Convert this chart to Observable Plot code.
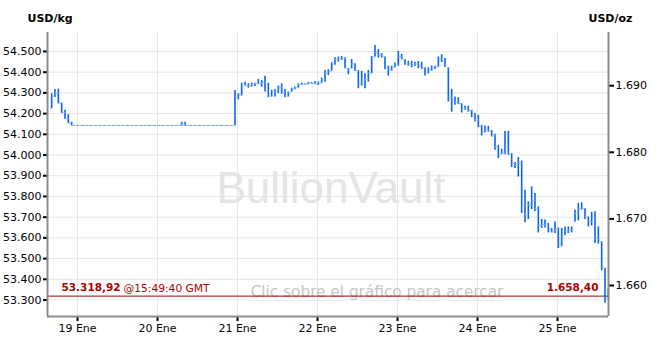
<!DOCTYPE html>
<html><head><meta charset="utf-8">
<script src="https://cdn.jsdelivr.net/npm/d3@7"></script>
<script src="https://cdn.jsdelivr.net/npm/@observablehq/plot@0.6"></script>
<style>
html,body{margin:0;padding:0;background:#fff;}
#chart{width:659px;height:344px;}
</style></head><body><div id="chart"></div>
<script>
// Hourly bars: hour offset from 19 Ene 2013 00:00 GMT
const hours = [-8,-7,-6,-5,-4,-3,-2, 31,32,
 47,48,49,50,51,52,53,54,55,56,57,58,59,60,61,62,63,64,65,66,67,68,69,70,71,72,73,74,75,76,77,78,79,80,
 81,82,83,84,85,86,87,88,89,90,91,92,93,94,95,96,97,98,99,100,101,102,103,104,105,106,107,108,109,110,
 111,112,113,114,115,116,117,118,119,120,121,122,123,124,125,126,127,128,129,130,131,132,133,134,135,136,
 137,138,139,140,141,142,143,144,145,146,147,148,149,150,151,152,153,154,155,156,157,158,159];
// USD/kg
const high = [54296,54317,54318,54251,54216,54195,54159, 54158,54158,
 54312,54296,54347,54351,54344,54347,54347,54365,54360,54380,
 54347,54312,54317,54333,54344,54317,54304,54323,54328,54344,
 54347,54344,54351,54351,54355,54352,54371,54408,54412,54446,
 54470,54473,54476,54470,54417,54461,54441,54408,54404,54393,
 54408,54476,54529,54510,54489,54473,54429,54429,54444,54500,
 54486,54461,54453,54453,54448,54452,54448,54421,54421,54429,
 54429,54473,54484,54466,54421,54317,54280,54277,54248,54235,
 54235,54216,54200,54192,54143,54140,54139,54119,54100,54047,
 54028,54114,54114,54007,53964,53988,53971,53830,53774,53846,
 53814,53750,53689,53686,53670,53646,53677,53648,53646,53653,
 53653,53653,53734,53766,53769,53742,53701,53723,53726,53653,
 53581,53453,53356];
const low = [54224,54278,54248,54200,54171,54152,54143, 54145,54143,
 54143,54267,54285,54333,54323,54328,54331,54340,54328,54304,
 54277,54280,54280,54296,54293,54277,54280,54304,54315,54323,
 54336,54340,54340,54344,54340,54336,54347,54352,54384,54405,
 54433,54448,54457,54417,54388,54417,54405,54320,54333,54320,
 54352,54393,54473,54468,54468,54412,54381,54405,54421,54429,
 54460,54433,54429,54421,54428,54417,54413,54381,54393,54405,
 54413,54424,54446,54423,54256,54207,54240,54243,54203,54216,
 54207,54180,54159,54132,54092,54108,54111,54087,54023,53983,
 54004,54002,53999,53940,53935,53894,53718,53673,53689,53737,
 53726,53624,53646,53648,53624,53624,53621,53549,53557,53613,
 53621,53624,53677,53682,53734,53689,53653,53658,53573,53570,
 53441,53284,53303];
const close = [54285,54300,54250,54205,54175,54155,54143, 54150,54143,
 54280,54290,54340,54335,54335,54340,54345,54345,54350,54310,
 54285,54305,54310,54325,54300,54285,54300,54320,54325,54340,
 54342,54342,54348,54345,54342,54345,54365,54395,54405,54440,
 54460,54465,54465,54420,54410,54440,54410,54345,54355,54365,
 54395,54470,54495,54480,54475,54420,54415,54425,54435,54475,
 54465,54440,54440,54435,54440,54430,54420,54395,54410,54420,
 54425,54460,54455,54430,54280,54265,54255,54250,54225,54225,
 54215,54190,54170,54140,54110,54125,54115,54095,54040,54000,
 54010,54040,54005,53960,53950,53960,53760,53710,53760,53780,
 53740,53660,53665,53660,53640,53630,53640,53570,53600,53630,
 53640,53640,53720,53740,53745,53700,53680,53700,53600,53590,
 53460,53340,53318.92];
const firstOpen = 54225;
// weekend (market closed) dashed line
const gapHours = [-2, 47];
const gapLevel = [54143, 54143];
const dayTicks = ["2013-01-19","2013-01-20","2013-01-21","2013-01-22","2013-01-23","2013-01-24","2013-01-25"];
const dayLabels = ["19 Ene","20 Ene","21 Ene","22 Ene","23 Ene","24 Ene","25 Ene"];
const yTicksKg = [53300,53400,53500,53600,53700,53800,53900,54000,54100,54200,54300,54400,54500];
const yTicksOz = [1660,1670,1680,1690];
const lastPrice = 53318.92;
const lastTime = "15:49:40 GMT";
const OZ_PER_KG = 32.1507466;

const loc = d3.formatLocale({decimal: ",", thousands: ".", grouping: [3], currency: ["", ""]});
const f0 = loc.format(",.0f"), f2 = loc.format(",.2f");
const t0 = Date.UTC(2013, 0, 19);
const toDate = h => new Date(t0 + (h + 0.25) * 3600e3);
const bars = hours.map((h, i) => {
  const prev = i > 0 ? close[i - 1] : firstOpen;
  return {t: toDate(h), high: high[i], low: low[i], close: close[i],
          open: Math.min(high[i], Math.max(low[i], prev))};
});
const gap = gapHours.map((h, i) => ({t: toDate(h), v: gapLevel[i]}));
const days = dayTicks.map(s => new Date(s + "T00:00:00Z"));
const xDomain = [new Date(t0 - 9 * 3600e3), new Date(t0 + 159.3 * 3600e3)];
const yDomain = [53220.5, 54591.6];
const axisGray = "#8c8c8c";
const red = "#b00000";
const tickBlue = "#8db5f7";

const chart = Plot.plot({
  width: 659, height: 344,
  marginLeft: 47, marginRight: 51, marginTop: 32, marginBottom: 28,
  x: {type: "utc", domain: xDomain, label: null},
  y: {domain: yDomain, label: null},
  style: {fontFamily: "DejaVu Sans, Verdana, sans-serif", fontSize: "11px", background: "#fff", color: "#000", overflow: "visible"},
  marks: [
    Plot.gridY(yTicksKg, {stroke: "#e6e6e6", strokeOpacity: 1}),
    Plot.gridX(days, {stroke: "#e6e6e6", strokeOpacity: 1}),
    Plot.text(["BullionVault"], {frameAnchor: "middle", dx: 3, dy: 14, fontSize: 44, fill: "#e4e4e4", fontFamily: "Liberation Sans, Arial, sans-serif"}),
    Plot.text(["Clic sobre el gráfico para acercar"], {frameAnchor: "bottom", dx: 49, dy: -20, fontSize: 15.3, fill: "#c6c6c6"}),
    Plot.ruleY([lastPrice], {stroke: "#a00000", strokeWidth: 1}),
    Plot.line(gap, {x: "t", y: "v", stroke: "#6f9ff2", strokeWidth: 1, strokeDasharray: "3,1.5"}),
    Plot.ruleX(bars, {x: "t", y1: "low", y2: "high", stroke: "#0a62f5", strokeWidth: 1.6}),
    Plot.link(bars, {x1: d => new Date(+d.t - 30 * 60e3), x2: "t", y1: "open", y2: "open", stroke: tickBlue, strokeWidth: 1}),
    Plot.link(bars, {x1: "t", x2: d => new Date(+d.t + 30 * 60e3), y1: "close", y2: "close", stroke: tickBlue, strokeWidth: 1}),
    Plot.text([lastPrice], {y: d => d, text: d => f2(d), frameAnchor: "left", textAnchor: "start", dx: 14, dy: -8, fontWeight: "bold", fontSize: 10.5, fill: red}),
    Plot.text([lastPrice], {y: d => d, text: d => "@" + lastTime, frameAnchor: "left", textAnchor: "start", dx: 76, dy: -8, fontSize: 10.7, fill: red}),
    Plot.text([lastPrice], {y: d => d, text: d => f2(d / OZ_PER_KG), frameAnchor: "right", textAnchor: "end", dx: -10, dy: -8, fontWeight: "bold", fontSize: 10.5, fill: red}),
    Plot.axisY(yTicksKg, {anchor: "left", label: null, tickSize: 4, tickPadding: 2, tickFormat: f0, stroke: "#000", strokeWidth: 2}),
    Plot.axisY(yTicksOz.map(v => v * OZ_PER_KG), {anchor: "right", label: null, tickSize: 5, tickPadding: 2, tickFormat: d => f0(Math.round(d / OZ_PER_KG)), stroke: "#000", strokeWidth: 2}),
    Plot.axisX(days, {anchor: "bottom", label: null, tickSize: 5, tickPadding: 3, tickFormat: (d, i) => dayLabels[i], stroke: "#000", strokeWidth: 2}),
    Plot.ruleX([xDomain[0]], {stroke: axisGray, strokeWidth: 2}),
    Plot.ruleX([xDomain[1]], {stroke: axisGray, strokeWidth: 2}),
    Plot.ruleY([yDomain[0]], {x1: xDomain[0], x2: xDomain[1], stroke: axisGray, strokeWidth: 2}),
    Plot.text(["USD/kg"], {frameAnchor: "top-left", textAnchor: "start", dx: -20, dy: -18, fontWeight: "bold"}),
    Plot.text(["USD/oz"], {frameAnchor: "top-right", textAnchor: "start", dx: -20, dy: -18, fontWeight: "bold"})
  ]
});
document.getElementById("chart").appendChild(chart);
</script></body></html>
